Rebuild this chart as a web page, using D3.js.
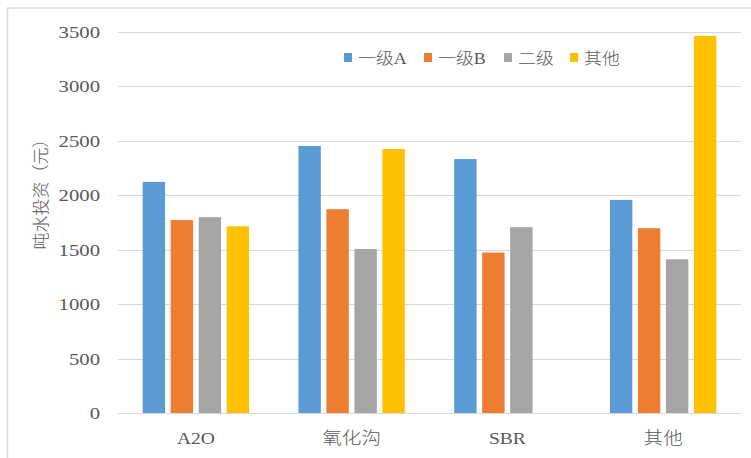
<!DOCTYPE html>
<html><head><meta charset="utf-8">
<script src="https://cdn.jsdelivr.net/npm/d3@7/dist/d3.min.js"></script>
<style>
html,body{margin:0;padding:0;background:#fff;}
svg{display:block;}
text{font-family:"Liberation Serif","Noto Sans CJK SC",serif;fill:#595959;}
</style></head>
<body>
<svg id="chart" width="751" height="458"></svg>
<script>
const categories = ["A2O", "氧化沟", "SBR", "其他"];
const seriesNames = ["一级A", "一级B", "二级", "其他"];
const seriesColors = ["#5B9BD5", "#ED7D31", "#A5A5A5", "#FFC000"];
const values_yijiA = [2120, 2450, 2330, 1955];
const values_yijiB = [1770, 1870, 1472, 1695];
const values_erji  = [1797, 1505, 1705, 1410];
const values_qita  = [1713, 2422, null, 3460];
const yTicks = [0, 500, 1000, 1500, 2000, 2500, 3000, 3500];
const yTitle = "吨水投资（元）";

const seriesValues = [values_yijiA, values_yijiB, values_erji, values_qita];

const svg = d3.select("#chart");
const W = 751, H = 458;
const m = {left: 118, top: 31.5};
const plotR = 741, plotB = 413;
const textColor = "#666666";

// frame
svg.append("line").attr("x1", 7.5).attr("x2", 7.5).attr("y1", 8).attr("y2", H).attr("stroke", "#d9d9d9").attr("stroke-width", 1.5);
svg.append("line").attr("x1", 7).attr("x2", W).attr("y1", 8).attr("y2", 8).attr("stroke", "#d9d9d9").attr("stroke-width", 1.5);

const y = d3.scaleLinear().domain([0, 3500]).range([plotB, m.top]);
const x0 = d3.scaleBand().domain(categories).range([m.left, plotR]).paddingInner(0).paddingOuter(0);
const bw = x0.bandwidth();
const groupW = 112;
const x1 = d3.scaleBand().domain(seriesNames).range([(bw - groupW) / 2, (bw + groupW) / 2]).paddingInner(0.2).paddingOuter(0.1);

function stretch(sel, k) {
  sel.each(function() {
    const L = this.getComputedTextLength();
    d3.select(this).attr("textLength", L * k).attr("lengthAdjust", "spacingAndGlyphs");
  });
}

// gridlines
svg.append("g").selectAll("line").data(yTicks).join("line")
  .attr("x1", m.left).attr("x2", plotR)
  .attr("y1", d => Math.round(y(d)) + 0.5).attr("y2", d => Math.round(y(d)) + 0.5)
  .attr("stroke", "#d9d9d9").attr("stroke-width", 1);

// y axis labels
const yAxis = svg.append("g").attr("transform", `translate(100,0)`)
  .call(d3.axisLeft(y).tickValues(yTicks).tickSize(0).tickPadding(0).tickFormat(d3.format("d")));
yAxis.select(".domain").remove();
yAxis.selectAll("text").attr("font-size", 17).attr("font-family", "Liberation Serif").attr("fill", textColor).attr("dy", "0.35em");
stretch(yAxis.selectAll("text"), 1.22);

// bars
const data = [];
categories.forEach((c, i) => seriesNames.forEach((s, j) => {
  const v = seriesValues[j][i];
  if (v != null) data.push({c, s, v, color: seriesColors[j]});
}));
svg.append("g").selectAll("rect").data(data).join("rect")
  .attr("x", d => x0(d.c) + x1(d.s))
  .attr("width", x1.bandwidth())
  .attr("y", d => y(d.v))
  .attr("height", d => plotB - y(d.v))
  .attr("fill", d => d.color);

// x axis labels
const xAxis = svg.append("g").attr("transform", `translate(0,${plotB})`)
  .call(d3.axisBottom(x0).tickSize(0).tickPadding(0));
xAxis.select(".domain").remove();
xAxis.selectAll("text").attr("font-size", 17).attr("fill", textColor).attr("dy", null).attr("y", 31)
  .attr("font-family", "Liberation Serif, Noto Sans CJK SC").attr("font-weight", 300);
stretch(xAxis.selectAll("text"), 1.15);

// y title
svg.append("text").attr("transform", "translate(47,190) rotate(-90)")
  .attr("text-anchor", "middle").attr("font-size", 17).attr("fill", textColor)
  .attr("font-family", "Noto Sans CJK SC").attr("font-weight", 300)
  .text(yTitle);

// legend
const legendX = [344, 424, 504, 570];
const lg = svg.append("g").selectAll("g").data(seriesNames).join("g")
  .attr("transform", (d, i) => `translate(${legendX[i]},53)`);
lg.append("rect").attr("width", 8).attr("height", 9).attr("fill", (d, i) => seriesColors[i]);
const lt = lg.append("text").attr("x", 14).attr("y", 11).attr("font-size", 16).attr("fill", textColor)
  .attr("font-family", "Liberation Serif, Noto Sans CJK SC").attr("font-weight", 300).text(d => d);
stretch(lt, 1.12);
</script>
</body></html>
